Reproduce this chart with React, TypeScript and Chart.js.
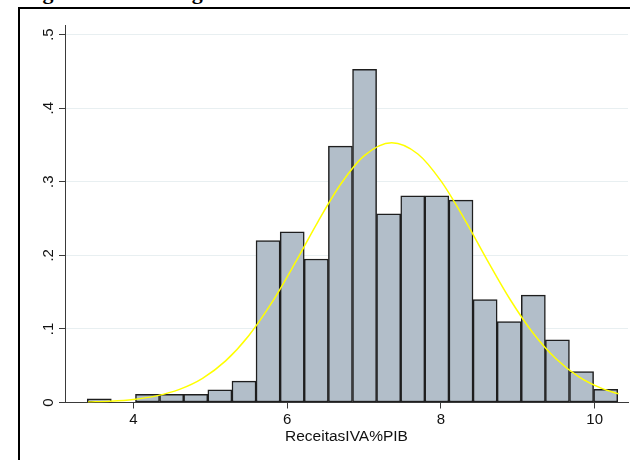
import React, { useEffect, useRef } from "react";
import { Chart, registerables } from "chart.js";

Chart.register(...registerables);

// Histogram bins (centres) and their densities
const binCenters = [
  3.557, 3.871, 4.184, 4.498, 4.811, 5.125, 5.439, 5.752, 6.066, 6.379, 6.693,
  7.007, 7.320, 7.634, 7.947, 8.261, 8.575, 8.888, 9.202, 9.515, 9.829, 10.143,
];
const densities: (number | null)[] = [
  0.005, null, 0.011, 0.011, 0.011, 0.0172, 0.029, 0.22, 0.232, 0.195, 0.3485,
  0.4527, 0.2565, 0.281, 0.281, 0.275, 0.14, 0.11, 0.146, 0.085, 0.042, 0.018,
];

// Normal density overlay
const curveX = [
  3.41, 3.7, 4.0, 4.3, 4.6, 4.9, 5.2, 5.5, 5.8, 6.1, 6.4, 6.7, 7.0, 7.36, 7.7,
  8.0, 8.3, 8.6, 8.9, 9.2, 9.5, 9.8, 10.1, 10.31,
];
const curveY = [
  0.0008, 0.00185, 0.0042, 0.009, 0.0178, 0.0328, 0.0565, 0.0907, 0.1356,
  0.189, 0.2456, 0.2972, 0.3352, 0.353, 0.3377, 0.3011, 0.2503, 0.1939, 0.14,
  0.0942, 0.0591, 0.0345, 0.0188, 0.0118,
];

const xTicks = [4, 6, 8, 10];
const yTicks = [0, 0.1, 0.2, 0.3, 0.4, 0.5];
const yTickLabels = ["0", ".1", ".2", ".3", ".4", ".5"];
const xTitle = "ReceitasIVA%PIB";
const caption = "Figura 2.1 – Histograma das Receitas do IVA em % do PIB";

const FONT = "'Liberation Sans', Arial, Helvetica, sans-serif";
const AXIS_COLOR = "#3a3a3a";

// Stata-style vertical tick labels on the y axis
const rotatedYLabels = {
  id: "rotatedYLabels",
  afterDraw(chart: any) {
    const ys = chart.scales.y;
    const ctx = chart.ctx;
    const x = chart.chartArea.left - 12;
    ctx.save();
    ctx.fillStyle = "#111";
    ctx.font = `15px ${FONT}`;
    ctx.textAlign = "center";
    ctx.textBaseline = "alphabetic";
    yTicks.forEach((v, i) => {
      const py = ys.getPixelForValue(v);
      ctx.save();
      ctx.translate(x, py);
      ctx.rotate(-Math.PI / 2);
      ctx.fillText(yTickLabels[i], 0, 0);
      ctx.restore();
    });
    ctx.restore();
  },
};

export default function App() {
  const canvasRef = useRef<HTMLCanvasElement | null>(null);

  useEffect(() => {
    if (!canvasRef.current) return;
    const chart = new Chart(canvasRef.current, {
      type: "bar",
      data: {
        datasets: [
          {
            type: "line",
            order: 0,
            data: curveX.map((x, i) => ({ x, y: curveY[i] })),
            borderColor: "#ffff00",
            borderWidth: 1.5,
            pointRadius: 0,
            cubicInterpolationMode: "monotone",
            fill: false,
          } as any,
          {
            type: "bar",
            order: 1,
            data: binCenters.map((x, i) => ({ x, y: densities[i] })),
            backgroundColor: "#b2bec9",
            borderColor: "#1e1e1e",
            borderWidth: 1.5,
            borderSkipped: false,
            barPercentage: 1,
            categoryPercentage: 1,
          } as any,
        ],
      },
      options: {
        responsive: false,
        animation: false,
        events: [],
        layout: { padding: { left: 0, top: 25, right: 2, bottom: 0 } },
        plugins: {
          legend: { display: false },
          tooltip: { enabled: false },
          title: { display: false },
        },
        scales: {
          x: {
            type: "linear",
            offset: false,
            min: 3.111,
            max: 10.433,
            afterBuildTicks: (s: any) => {
              s.ticks = xTicks.map((v) => ({ value: v }));
            },
            ticks: {
              color: "#111",
              font: { family: FONT, size: 15 },
              padding: 2,
              maxRotation: 0,
              callback: (v: any) => String(v),
            },
            grid: {
              offset: false,
              drawOnChartArea: false,
              drawTicks: true,
              tickLength: 6,
              tickColor: AXIS_COLOR,
            },
            border: { display: true, color: AXIS_COLOR, width: 1 },
            title: {
              display: true,
              text: xTitle,
              color: "#111",
              font: { family: FONT, size: 15.5 },
              padding: { top: 0, bottom: 14 },
            },
            afterFit: (s: any) => {
              s.height = 57.5;
            },
          },
          y: {
            type: "linear",
            min: 0,
            max: 0.513,
            afterBuildTicks: (s: any) => {
              s.ticks = yTicks.map((v) => ({ value: v }));
            },
            ticks: { display: false },
            grid: {
              color: (c: any) =>
                c.tick && c.tick.value === 0 ? "rgba(0,0,0,0)" : "#e8eff1",
              lineWidth: 1,
              drawTicks: true,
              tickLength: 6,
              tickColor: AXIS_COLOR,
            },
            border: { display: true, color: AXIS_COLOR, width: 1 },
            afterFit: (s: any) => {
              s.width = 65;
            },
          },
        },
      },
      plugins: [rotatedYLabels],
    } as any);
    return () => chart.destroy();
  }, []);

  return (
    <div
      style={{
        position: "absolute",
        left: 0,
        top: 0,
        width: 630,
        height: 460,
        overflow: "hidden",
        background: "#fff",
      }}
    >
      <div
        style={{
          position: "absolute",
          left: 23,
          top: -19,
          font: "bold 22px 'Liberation Serif', 'Times New Roman', serif",
          lineHeight: "22px",
          whiteSpace: "nowrap",
          color: "#000",
        }}
      >
        {caption}
      </div>
      <div
        style={{
          position: "absolute",
          left: 18,
          top: 7,
          width: 620,
          height: 470,
          borderLeft: "2px solid #000",
          borderTop: "2px solid #000",
          boxSizing: "border-box",
        }}
      />
      <canvas
        ref={canvasRef}
        width={630}
        height={460}
        style={{ position: "absolute", left: 0, top: 0, width: 630, height: 460 }}
      />
    </div>
  );
}
